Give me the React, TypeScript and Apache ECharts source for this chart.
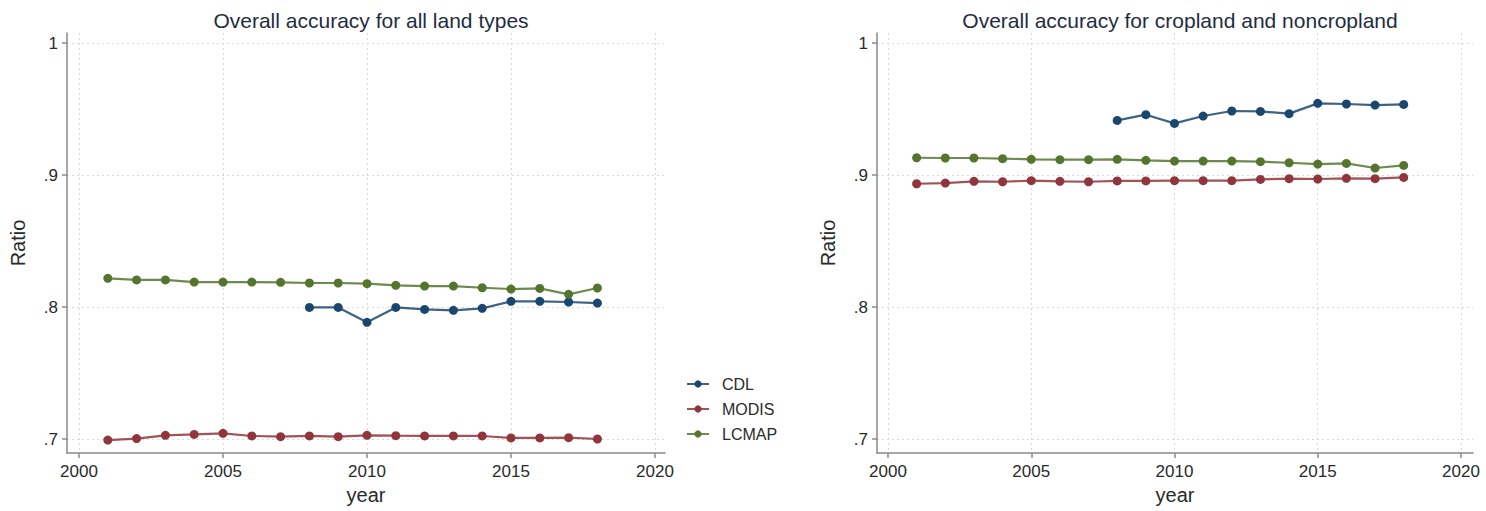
import React, { useEffect, useRef } from "react";
import * as echarts from "echarts";

const cdlYears = [2008, 2009, 2010, 2011, 2012, 2013, 2014, 2015, 2016, 2017, 2018];
const allYears = [2001, 2002, 2003, 2004, 2005, 2006, 2007, 2008, 2009, 2010, 2011, 2012, 2013, 2014, 2015, 2016, 2017, 2018];

// Panel 1: all land types
const cdlAll = [0.7997, 0.7997, 0.7884, 0.7997, 0.7982, 0.7975, 0.799, 0.8043, 0.8043, 0.8038, 0.803];
const modisAll = [0.6992, 0.7003, 0.7028, 0.7035, 0.7043, 0.7023, 0.7018, 0.7023, 0.7018, 0.7028, 0.7025, 0.7023, 0.7023, 0.7023, 0.7008, 0.7008, 0.701, 0.7];
const lcmapAll = [0.8217, 0.8205, 0.8205, 0.8189, 0.8189, 0.8189, 0.8187, 0.8182, 0.8182, 0.8177, 0.8164, 0.8159, 0.8159, 0.8146, 0.8136, 0.8141, 0.8096, 0.8144];

// Panel 2: cropland and noncropland
const cdlCrop = [0.9414, 0.9457, 0.9391, 0.9447, 0.9485, 0.9482, 0.9465, 0.9543, 0.9538, 0.953, 0.9535];
const modisCrop = [0.8934, 0.8939, 0.8952, 0.8949, 0.8957, 0.8952, 0.8949, 0.8955, 0.8955, 0.8957, 0.8957, 0.8957, 0.8967, 0.8972, 0.897, 0.8975, 0.8972, 0.8982];
const lcmapCrop = [0.9131, 0.9129, 0.9129, 0.9124, 0.9119, 0.9116, 0.9116, 0.9119, 0.9111, 0.9106, 0.9106, 0.9106, 0.9101, 0.9093, 0.9083, 0.9088, 0.9053, 0.9073];

const xTicks = [2000, 2005, 2010, 2015, 2020];
const yTicks = [0.7, 0.8, 0.9, 1];
const titles = ["Overall accuracy for all land types", "Overall accuracy for cropland and noncropland"];
const seriesNames = ["CDL", "MODIS", "LCMAP"];
const colors = ["#1a476f", "#90353b", "#55752f"];

const FONT = "'Liberation Sans', Arial, sans-serif";

function pairs(xs: number[], ys: number[]) {
  return xs.map((x, i) => [x, ys[i]]);
}

export default function App() {
  const ref = useRef<HTMLDivElement>(null);
  useEffect(() => {
    document.body.style.margin = "0";
    const chart = echarts.init(ref.current!, null, { renderer: "svg" });
    const gridLine = { show: true, lineStyle: { color: "#d9d9d9", type: [2, 3] as any, width: 1 } };
    const axisLineStyle = { show: true, onZero: false, lineStyle: { color: "#8a8a8a", width: 1.5 } };
    const mkX = (gi: number, min: number, max: number) => ({
      type: "value",
      gridIndex: gi,
      min,
      max,
      axisLine: axisLineStyle,
      axisTick: { show: true, length: 5, customValues: xTicks, lineStyle: { color: "#8a8a8a", width: 1.5 } },
      axisLabel: {
        customValues: xTicks,
        margin: 10,
        fontSize: 17,
        color: "#2a2a2a",
        fontFamily: FONT,
        formatter: (v: number) => String(Math.round(v)),
      },
      splitLine: gridLine,
      name: "year",
      nameLocation: "middle",
      nameGap: 32,
      nameTextStyle: { fontSize: 20, color: "#2a2a2a", fontFamily: FONT },
    });
    const mkY = (gi: number) => ({
      type: "value",
      gridIndex: gi,
      min: 0.6894,
      max: 1.0076,
      axisLine: axisLineStyle,
      axisTick: { show: true, length: 5, customValues: yTicks, lineStyle: { color: "#8a8a8a", width: 1.5 } },
      axisLabel: {
        customValues: yTicks,
        margin: 9,
        fontSize: 17,
        color: "#2a2a2a",
        fontFamily: FONT,
        formatter: (v: number) => (Math.abs(v - 1) < 1e-9 ? "1" : "." + Math.round(v * 10)),
      },
      splitLine: gridLine,
      name: "Ratio",
      nameLocation: "middle",
      nameGap: 39,
      nameTextStyle: { fontSize: 20, color: "#2a2a2a", fontFamily: FONT },
    });
    const mkSeries = (name: string, color: string, gi: number, data: number[][]) => ({
      type: "line",
      name,
      xAxisIndex: gi,
      yAxisIndex: gi,
      data,
      symbol: "circle",
      symbolSize: 9,
      itemStyle: { color },
      lineStyle: { color, width: 2.2, opacity: 0.85 },
    });
    chart.setOption({
      animation: false,
      backgroundColor: "#ffffff",
      title: [
        { text: titles[0], left: 366, top: 5, textAlign: "center", textStyle: { fontSize: 21, fontWeight: "normal", color: "#1f2d42", fontFamily: FONT } },
        { text: titles[1], left: 1175, top: 5, textAlign: "center", textStyle: { fontSize: 21, fontWeight: "normal", color: "#1f2d42", fontFamily: FONT } },
      ],
      legend: {
        orient: "vertical",
        left: 681,
        top: 371,
        itemWidth: 22,
        itemHeight: 9,
        itemGap: 9,
        data: seriesNames,
        textStyle: { fontSize: 16, color: "#2a2a2a", fontFamily: FONT, padding: [0, 0, 0, 8] },
      },
      grid: [
        { left: 67, top: 33, width: 598, height: 420 },
        { left: 877, top: 33, width: 596, height: 420 },
      ],
      xAxis: [mkX(0, 1999.583, 2020.347), mkX(1, 1999.616, 2020.419)],
      yAxis: [mkY(0), mkY(1)],
      series: [
        mkSeries(seriesNames[0], colors[0], 0, pairs(cdlYears, cdlAll)),
        mkSeries(seriesNames[1], colors[1], 0, pairs(allYears, modisAll)),
        mkSeries(seriesNames[2], colors[2], 0, pairs(allYears, lcmapAll)),
        mkSeries(seriesNames[0], colors[0], 1, pairs(cdlYears, cdlCrop)),
        mkSeries(seriesNames[1], colors[1], 1, pairs(allYears, modisCrop)),
        mkSeries(seriesNames[2], colors[2], 1, pairs(allYears, lcmapCrop)),
      ],
    });
    return () => chart.dispose();
  }, []);
  return <div ref={ref} style={{ width: 1486, height: 511 }} />;
}
